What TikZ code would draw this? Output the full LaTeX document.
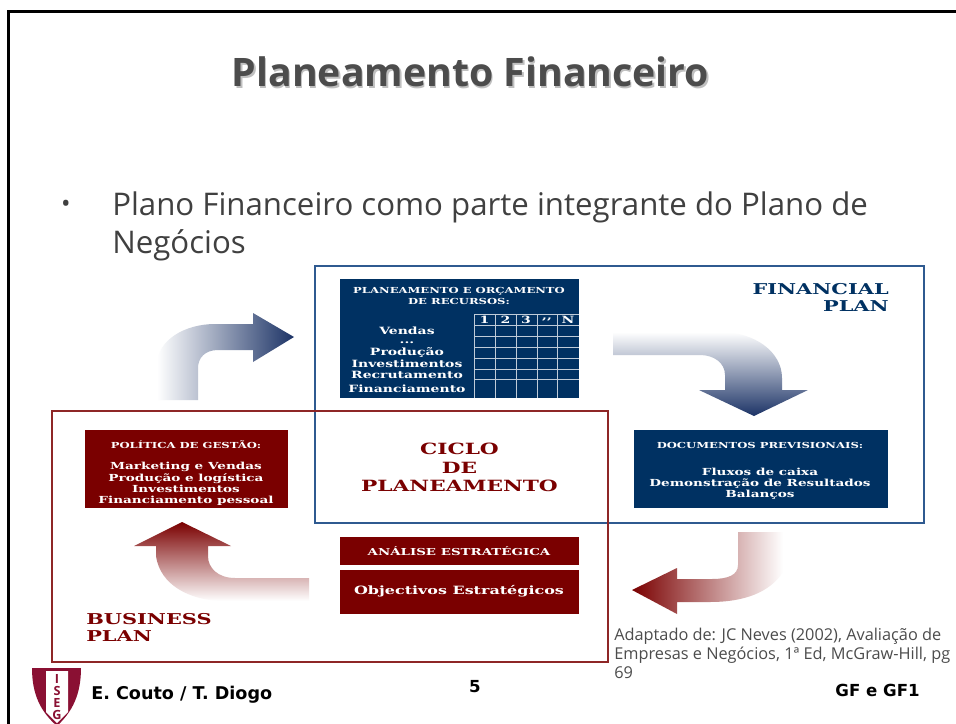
\documentclass[tikz,border=0pt]{standalone}
\usepackage{fontspec}
\setmainfont{Open Sans}
\newfontfamily\slabfont[FakeStretch=1.4]{DejaVu Serif}
\newfontfamily\footfont{DejaVu Sans}
\definecolor{navyplan}{HTML}{003162}
\definecolor{redplan}{HTML}{7A0000}
\definecolor{logored}{HTML}{8A1033}
\definecolor{panelblue}{HTML}{2F5A90}
\definecolor{arrowblue}{HTML}{1C3366}
\definecolor{midblue}{HTML}{C3C6D2}
\definecolor{midred}{HTML}{C9A8A8}
\tikzset{
    slabtext/.style = {inner sep = 0pt, align = center, font = \slabfont\bfseries\fontsize{5.9}{7.4}\selectfont},
    rowtext/.style = {slabtext, text = white},
    celltext/.style = {rowtext, font = \slabfont\bfseries\fontsize{7.1}{8}\selectfont},
    listtext/.style = {rowtext, font = \slabfont\bfseries\fontsize{6.9}{8}\selectfont},
    logotext/.style = {inner sep = 0pt, text = logored, font = \bfseries\fontsize{9}{9}\selectfont},
    foottext/.style = {inner sep = 0pt, font = \footfont\bfseries\fontsize{11.8}{12}\selectfont}
}
\begin{document}
\begin{tikzpicture}[x = 0.025cm, y = -0.025cm]
                \useasboundingbox (0,0) rectangle (956,724);
                \fill[white] (0,0) rectangle (956,724);
                \draw[black, line width = 2.2pt] (8.5,724) -- (8.5,11.5) -- (956,11.5);

                \node[inner sep = 0pt, text = black!25, font = \bfseries\fontsize{27.9}{30}\selectfont] (titleshadow) at (472,73.5) {Planeamento Financeiro};
                \node[inner sep = 0pt, text = black!70, font = \bfseries\fontsize{27.9}{30}\selectfont] (title) at (470.5,71.5) {Planeamento Financeiro};
                \node[inner sep = 0pt, text = black!75, font = \fontsize{18}{27.2}\selectfont] (bullet) at (66,206) {•};
                \node[inner sep = 0pt, text = black!75, anchor = north west, align = left, font = \fontsize{22.2}{27.5}\selectfont] (intro) at (112,191) {Plano Financeiro como parte integrante do Plano de\\Negócios};

                \draw[panelblue, line width = 1pt] (315,266) rectangle (924,523);
                \draw[redplan!85, line width = 1pt] (52,411) rectangle (608,662);

                \fill[navyplan] (340,279) rectangle (579,398);
                \fill[navyplan] (634,430) rectangle (888,508);
                \fill[redplan] (85,430) rectangle (288,508);
                \fill[redplan] (340,537) rectangle (579,565);
                \fill[redplan] (340,570) rectangle (579,614);

                \draw[white!75!navyplan] (474,314) -- (474,398);
                \draw[white!75!navyplan] (495.5,314) -- (495.5,398);
                \draw[white!75!navyplan] (516,314) -- (516,398);
                \draw[white!75!navyplan] (537,314) -- (537,398);
                \draw[white!75!navyplan] (557.5,314) -- (557.5,398);
                \draw[white!75!navyplan] (474,314) -- (579,314);
                \draw[white!75!navyplan] (474,325) -- (579,325);
                \draw[white!75!navyplan] (474,336) -- (579,336);
                \draw[white!75!navyplan] (474,347) -- (579,347);
                \draw[white!75!navyplan] (474,358) -- (579,358);
                \draw[white!75!navyplan] (474,369) -- (579,369);
                \draw[white!75!navyplan] (474,379) -- (579,379);

                \shade[left color = white, middle color = midblue, right color = arrowblue]
                    (157,400) -- (157,365) .. controls (157,340) and (185,324) .. (215,324) -- (253,324)
                    -- (253,313) -- (294,337) -- (253,362) -- (253,350) -- (218,350)
                    .. controls (205,350) and (198,358) .. (198,368) -- (198,400) -- cycle;
                \shade[top color = white, middle color = midblue, bottom color = arrowblue]
                    (613,332) -- (720,332) .. controls (755,332) and (782,352) .. (782,378) -- (782,390)
                    -- (808,390) -- (754,416) -- (699,390) -- (725,390) -- (725,375)
                    .. controls (725,363) and (714,355) .. (700,355) -- (613,355) -- cycle;
                \shade[left color = redplan, middle color = midred, right color = white]
                    (783,532) -- (783,572) .. controls (770,592) and (745,602) .. (710,602) -- (677,602)
                    -- (677,614) -- (632,590) -- (677,568) -- (677,579) -- (712,579)
                    .. controls (728,579) and (738,575) .. (738,565) -- (738,532) -- cycle;
                \shade[top color = redplan, middle color = midred, bottom color = white]
                    (309,578) -- (235,578) .. controls (218,578) and (208,568) .. (208,556) -- (208,546)
                    -- (231,546) -- (182,522) -- (134,546) -- (156,546) -- (156,556)
                    .. controls (160,585) and (190,601) .. (225,601) -- (309,601) -- cycle;

                \node[rowtext] (budgettitle) at (459,296) {PLANEAMENTO E ORÇAMENTO\\DE RECURSOS:};
                \node[celltext] (rowvendas) at (407,331) {Vendas};
                \node[celltext] (rowdots) at (407,343) {...};
                \node[celltext] (rowproducao) at (407,352.5) {Produção};
                \node[celltext] (rowinvest) at (407,364) {Investimentos};
                \node[celltext] (rowrecruit) at (407,375) {Recrutamento};
                \node[celltext] (rowfinance) at (407,389) {Financiamento};
                \node[celltext] (colone) at (484.5,320) {1};
                \node[celltext] (coltwo) at (505.5,320) {2};
                \node[celltext] (colthree) at (526,320) {3};
                \node[celltext] (coldots) at (547,320) {,,};
                \node[celltext] (coln) at (568,320) {N};

                \node[rowtext] (doctitle) at (760,445) {DOCUMENTOS PREVISIONAIS:};
                \node[listtext] (doclist) at (760,484) {Fluxos de caixa\\Demonstração de Resultados\\Balanços};
                \node[rowtext] (policytitle) at (186,444.5) {POLÍTICA DE GESTÃO:};
                \node[listtext] (policylist) at (186,484) {Marketing e Vendas\\Produção e logística\\Investimentos\\Financiamento pessoal};
                \node[rowtext, font = \slabfont\bfseries\fontsize{6.8}{8}\selectfont] (analysis) at (459,551) {ANÁLISE ESTRATÉGICA};
                \node[rowtext, font = \slabfont\bfseries\fontsize{8.1}{9}\selectfont] (goals) at (459,591.5) {Objectivos Estratégicos};

                \node[slabtext, text = redplan, font = \slabfont\bfseries\fontsize{11}{13.4}\selectfont] (cycle) at (459.5,467.5) {CICLO\\DE\\PLANEAMENTO};
                \node[slabtext, anchor = north east, align = right, text = navyplan, font = \slabfont\bfseries\fontsize{10.6}{12.4}\selectfont] (financial) at (889,283) {FINANCIAL\\PLAN};
                \node[slabtext, anchor = north west, align = left, text = redplan, font = \slabfont\bfseries\fontsize{10.6}{12.4}\selectfont] (business) at (86,613) {BUSINESS\\PLAN};

                \node[anchor = north west, inner sep = 0pt, align = left, text = black!70, font = \fontsize{11.6}{13.6}\selectfont] (source) at (614,628) {Adaptado de: JC Neves (2002), Avaliação de\\Empresas e Negócios, 1ª Ed, McGraw-Hill, pg\\69};

                \fill[logored] (32,668) -- (81,668) .. controls (81,695) and (72,712) .. (57,726) .. controls (41,712) and (32,695) .. (32,668) -- cycle;
                \fill[white] (46,671) -- (68,671) -- (68,712) -- (57,723) -- (46,712) -- cycle;
                \node[logotext] (logoi) at (57,679) {I};
                \node[logotext] (logos) at (57,690.5) {S};
                \node[logotext] (logoe) at (57,703) {E};
                \node[logotext] (logog) at (57,714.5) {G};

                \node[foottext, anchor = west, font = \footfont\bfseries\fontsize{12.5}{13}\selectfont] (authors) at (91,695) {E. Couto / T. Diogo};
                \node[foottext] (pagenum) at (475,687) {5};
                \node[foottext, anchor = east] (course) at (920,690) {GF e GF1};
\end{tikzpicture}
\end{document}
